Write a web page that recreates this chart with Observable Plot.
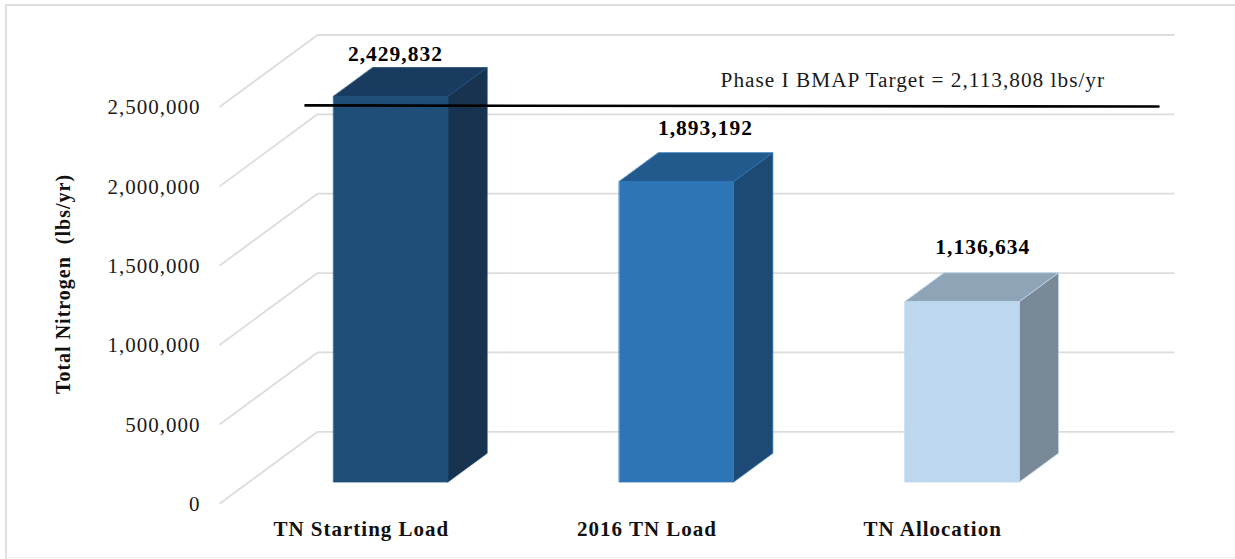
<!DOCTYPE html>
<html>
<head>
<meta charset="utf-8">
<script src="https://cdn.jsdelivr.net/npm/d3@7"></script>
<script src="https://cdn.jsdelivr.net/npm/@observablehq/plot@0.6"></script>
<style>
html,body{margin:0;padding:0;background:#fff;overflow:hidden}
#chart{position:absolute;left:0;top:0}
.edge{position:absolute;pointer-events:none}
#fTop{left:5px;top:4px;width:1230px;height:2px;background:#dddddd}
#fLeft{left:5px;top:4px;width:2px;height:555px;background:#e0e0e0}
#fBottom{left:5px;top:557px;width:1230px;height:1px;background:#ececec}
</style>
</head>
<body>
<div id="chart"></div>
<div class="edge" id="fTop"></div>
<div class="edge" id="fLeft"></div>
<div class="edge" id="fBottom"></div>
<script>
// Data
const categories = ["TN Starting Load", "2016 TN Load", "TN Allocation"];
const loads = [2429832, 1893192, 1136634];
const frontColors = ["#1f4e79", "#2e75b6", "#bdd7ee"];
const topColors = ["#193b60", "#235a8e", "#90a4b7"];
const sideColors = ["#17334f", "#1c4a75", "#7a8998"];
const edgeColors = ["#1f4e79", "#2e75b6", "#bdd7ee"];
const yTicks = [0, 500000, 1000000, 1500000, 2000000, 2500000];
const targetText = "Phase I BMAP Target = 2,113,808 lbs/yr";
// Annotation placement, in data units (hand-drawn overlay in the original)
const targetLineX = [0.301, 3.287];
const targetLineY = [2510000, 2503000];
const targetTextAt = [1.754, 2667000];
const labelX = [0.616, 1.701, 2.672];
const labelY = [2831000, 2365000, 1615000];

// Depth of the 3-D box, in data units
const depthX = 0.343;
const depthY = 453700;
const barHalf = 0.2;
const barNear = 0.296;
const barFar = 0.696;

const at = (cat, val, d) => [cat + depthX * d, val + depthY * d];
const quad = (id, fill, stroke, a, b, c, e) => [
  {id, fill, stroke, x1: a[0], y1: a[1], x2: e[0], y2: e[1]},
  {id, fill, stroke, x1: b[0], y1: b[1], x2: c[0], y2: c[1]}
];

const faces = categories.flatMap((c, i) => {
  const l = i + 0.5 - barHalf, r = i + 0.5 + barHalf, v = loads[i];
  return [
    ...quad(i + "-side", sideColors[i], edgeColors[i], at(r, 0, barNear), at(r, 0, barFar), at(r, v, barFar), at(r, v, barNear)),
    ...quad(i + "-top", topColors[i], edgeColors[i], at(l, v, barNear), at(r, v, barNear), at(r, v, barFar), at(l, v, barFar)),
    ...quad(i + "-front", frontColors[i], edgeColors[i], at(l, 0, barNear), at(r, 0, barNear), at(r, v, barNear), at(l, v, barNear))
  ];
});

const chart = Plot.plot({
  width: 1235,
  height: 559,
  marginLeft: 219,
  marginRight: 159,
  marginTop: 106.5,
  marginBottom: 55.7,
  style: {fontFamily: "'Liberation Serif'", fontSize: "21px", letterSpacing: "1px", color: "#1a1a1a", background: "transparent"},
  x: {domain: [0, 3], label: null},
  y: {domain: [0, 2500000], label: null},
  color: {type: "identity"},
  marks: [
    // side wall and back wall gridlines
    Plot.link(yTicks, {x1: 0, y1: d => d, x2: depthX, y2: d => d + depthY, stroke: "#dcdcdc", strokeWidth: 1.8}),
    Plot.link(yTicks, {x1: depthX, y1: d => d + depthY, x2: 3 + depthX, y2: d => d + depthY, stroke: "#dcdcdc", strokeWidth: 1.8}),
    Plot.area(faces, {x1: "x1", y1: "y1", x2: "x2", y2: "y2", z: "id", fill: "fill", stroke: "stroke", strokeWidth: 0.8}),
    Plot.axisY({ticks: yTicks, tickSize: 0, tickPadding: 19, tickFormat: d3.format(","), label: null, dy: 0.5}),
    Plot.axisX({ticks: [0.5, 1.5, 2.5], tickSize: 0, tickPadding: 17, tickFormat: d => categories[Math.floor(d)], label: null, fontWeight: "bold", fontSize: 21, dx: -1, fill: "#111"}),
    Plot.text(loads, {x: (d, i) => labelX[i], y: (d, i) => labelY[i], text: d => d3.format(",")(d), fontWeight: "bold", fontSize: 21.5, fill: "#000"}),
    Plot.line(targetLineX.map((x, i) => ({x, y: targetLineY[i]})), {x: "x", y: "y", stroke: "#000", strokeWidth: 2.6}),
    Plot.text([targetText], {x: targetTextAt[0], y: targetTextAt[1], text: d => d, textAnchor: "start", fontSize: 21.3, fill: "#1a1a1a"}),
    Plot.text(["Total Nitrogen\u00a0\u00a0(lbs/yr)"], {frameAnchor: "top-left", dx: -156, dy: 177, text: d => d, rotate: -90, textAnchor: "middle", lineAnchor: "middle", fontWeight: "bold", fontSize: 20, fill: "#111"})
  ]
});
document.getElementById("chart").appendChild(chart);
</script>
</body>
</html>
